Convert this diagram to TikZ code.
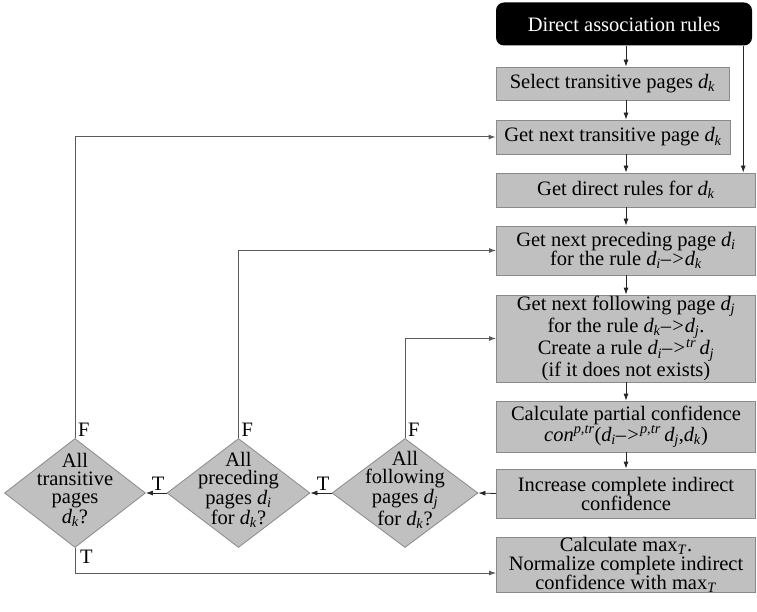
\documentclass[tikz,border=0pt]{standalone}
\usepackage{fontspec}
\setmainfont{Liberation Serif}
\usetikzlibrary{shapes.geometric,arrows.meta}
\newcommand\dd[1]{\textit{d}\kern-0.3pt\textsubscript{\textit{#1}}}
\newcommand\sarr{\textit{–>}}
\definecolor{boxfill}{HTML}{C0C0C0}
\definecolor{boxedge}{HTML}{8A8A8A}
\definecolor{linecol}{HTML}{5A5A5A}
\begin{document}
\begin{tikzpicture}[x=1pt,y=-1pt,
  every node/.style={font=\fontsize{20.5}{19}\selectfont},
  procbox/.style={draw=boxedge,fill=boxfill,line width=0.8pt,align=center,inner sep=0pt},
  startbox/.style={fill=black,text=white,rounded corners=8pt,align=center,inner sep=0pt},
  decbox/.style={diamond,draw=boxedge,fill=boxfill,line width=0.8pt,inner sep=0pt},
  dectext/.style={align=center,inner sep=0pt,font=\fontsize{20.5}{18}\selectfont},
  flow/.style={-{Latex[length=7pt,width=5pt]},line width=0.8pt,draw=black!85},
  back/.style={-{Latex[length=7pt,width=5pt]},line width=1pt,draw=linecol},
  lbl/.style={inner sep=1pt}]
\useasboundingbox (0,0) rectangle (757,612);
\node[startbox,minimum width=256pt,minimum height=43pt] (dar) at (624,24) {Direct association rules};
\node[procbox,minimum width=233pt,minimum height=33pt] (sel) at (612.5,83.5) {Select transitive pages \dd{k}};
\node[procbox,minimum width=234pt,minimum height=34pt] (gnt) at (613,137) {Get next transitive page \dd{k}};
\node[procbox,minimum width=259pt,minimum height=34pt] (gdr) at (626,190) {Get direct rules for \dd{k}};
\node[procbox,minimum width=259pt,minimum height=49pt] (gnp) at (626,250.5) {Get next preceding page \dd{i}\\for the rule \dd{i}\sarr\dd{k}};
\node[procbox,minimum width=259pt,minimum height=87pt] (gnf) at (626,338.5) {Get next following page \dd{j}\\for the rule \dd{k}\sarr\dd{j}.\\Create a rule \dd{i}\sarr\textsuperscript{\textit{tr}}\,\dd{j}\\(if it does not exists)};
\node[procbox,minimum width=259pt,minimum height=51pt] (cpc) at (626,426.5) {Calculate partial confidence\\\textit{con}\textsuperscript{\textit{p,tr}}(\dd{i}\sarr\textsuperscript{\textit{p,tr}}\,\dd{j},\dd{k})};
\node[procbox,minimum width=259pt,minimum height=49pt] (icc) at (626,493.5) {Increase complete indirect\\confidence};
\node[procbox,minimum width=259pt,minimum height=54pt] (cmx) at (626,565) {Calculate max\textsubscript{\textit{T}}.\\Normalize complete indirect\\confidence with max\textsubscript{\textit{T}}};
\node[decbox,minimum width=141pt,minimum height=109pt] (d1) at (75,493) {};
\node[decbox,minimum width=143pt,minimum height=109pt] (d2) at (238.5,493) {};
\node[decbox,minimum width=146pt,minimum height=109pt] (d3) at (405,493) {};
\node[dectext] (d1t) at ([yshift=3pt]d1.center) {All\\transitive\\pages\\\dd{k}?};
\node[dectext] (d2t) at ([yshift=3pt]d2.center) {All\\preceding\\pages \dd{i}\\for \dd{k}?};
\node[dectext] (d3t) at ([yshift=3pt]d3.center) {All\\following\\pages \dd{j}\\for \dd{k}?};
% main column
\draw[flow] (dar.south -| gdr.north) -- (sel.north -| gdr.north);
\draw[flow] (sel.south -| gdr.north) -- (gnt.north -| gdr.north);
\draw[flow] (gnt.south -| gdr.north) -- (gdr.north);
\draw[flow] ([xshift=-9pt]dar.south east) -- ([xshift=-9pt]dar.south east |- gdr.north);
\draw[flow] (gdr.south) -- (gnp.north);
\draw[flow] (gnp.south) -- (gnf.north);
\draw[flow] (gnf.south) -- (cpc.north);
\draw[flow] (cpc.south) -- (icc.north);
\draw[flow] (icc.west) -- (d3.east);
\draw[flow] (d3.west) -- (d2.east);
\draw[flow] (d2.west) -- (d1.east);
% loops back
\draw[back] (d3.north) -- (d3.north |- gnf.west) -- (gnf.west);
\draw[back] (d2.north) -- (d2.north |- gnp.west) -- (gnp.west);
\draw[back] (d1.north) -- (d1.north |- gnt.west) -- (gnt.west);
\coordinate (endc) at ([yshift=-8pt]cmx.west);
\draw[back] (d1.south) -- (d1.south |- endc) -- (endc);
% labels
\node[lbl,anchor=south west] (f1) at ([xshift=2pt]d1.north) {F};
\node[lbl,anchor=south west] (f2) at ([xshift=2pt]d2.north) {F};
\node[lbl,anchor=south west] (f3) at ([xshift=2pt]d3.north) {F};
\node[lbl,anchor=south east] (t1) at ([xshift=-1pt,yshift=1pt]d2.west) {T};
\node[lbl,anchor=south east] (t2) at ([xshift=-1pt,yshift=1pt]d3.west) {T};
\node[lbl,anchor=north west] (t3) at ([xshift=4pt,yshift=-1pt]d1.south) {T};
\end{tikzpicture}
\end{document}
